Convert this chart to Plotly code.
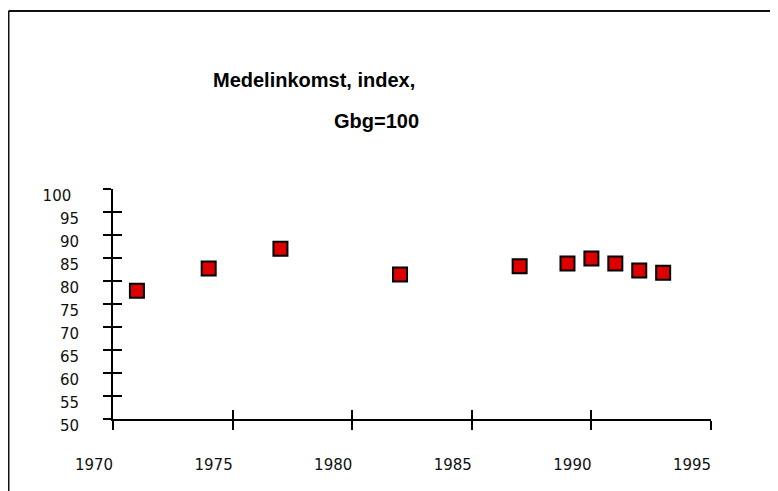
import plotly.graph_objects as go

# ---- data ----
years = [1971, 1974, 1977, 1982, 1987, 1989, 1990, 1991, 1992, 1993]
income_index = [77.9, 82.7, 87.0, 81.4, 83.2, 83.8, 84.9, 83.8, 82.3, 81.8]
x_ticks = [1970, 1975, 1980, 1985, 1990, 1995]
x_ticktext = ["1970", "1975", "1980", "1985", "1990", "1995"]
y_ticks = [50, 55, 60, 65, 70, 75, 80, 85, 90, 95, 100]
y_ticktext = ["50", "55", "60", "65", "70", "75", "80", "85", "90", "95", "100\u00a0\u2009"]
title_line1 = "Medelinkomst, index,"
title_line2 = "Gbg=100"

# page offset of the plot div inside the browser window
OX, OY = 8, 10
W, H = 778, 491
# target plot area in window pixels: x 113..711, y 191..421
L, T = 113 - OX, 191 - OY
PW, PH = 598, 230
R = W - L - PW
B = H - T - PH


def px(xp):
    return (xp - OX - L) / PW


def py(yp):
    return (T + PH - (yp - OY)) / PH


tick_font = dict(family="DejaVu Sans", size=15, color="#111")

fig = go.Figure()
fig.add_trace(go.Scatter(
    x=years, y=income_index, mode="markers",
    marker=dict(symbol="square", size=14, color="#dd0000",
                line=dict(color="black", width=2)),
    showlegend=False, hoverinfo="x+y",
))
# invisible trace to carry the overlay axes (inside half of crossing ticks)
fig.add_trace(go.Scatter(x=[], y=[], xaxis="x2", yaxis="y2", showlegend=False))

axis_common = dict(showgrid=False, zeroline=False, showline=True, linecolor="black",
                   linewidth=2, tickcolor="black", tickwidth=2)

fig.update_layout(
    width=W, height=H,
    margin=dict(l=L, r=R, t=T, b=B),
    paper_bgcolor="white", plot_bgcolor="white",
    xaxis=dict(range=[1970, 1995], tickvals=x_ticks, ticktext=x_ticktext,
               ticks="outside", ticklen=9, tickfont=tick_font,
               ticklabelshift=-19, ticklabelstandoff=22, **axis_common),
    yaxis=dict(range=[50, 100], tickvals=y_ticks, ticktext=y_ticktext,
               ticks="outside", ticklen=8, tickfont=tick_font,
               ticklabelshift=7, ticklabelstandoff=21, **axis_common),
    xaxis2=dict(range=[1970, 1995], tickvals=x_ticks, ticks="inside", ticklen=9,
                overlaying="x", showticklabels=False, showgrid=False, zeroline=False,
                showline=False, tickcolor="black", tickwidth=2, side="bottom"),
    yaxis2=dict(range=[50, 100], tickvals=y_ticks, ticks="inside", ticklen=9,
                overlaying="y", showticklabels=False, showgrid=False, zeroline=False,
                showline=False, tickcolor="black", tickwidth=2, side="left"),
    shapes=[
        dict(type="line", xref="paper", yref="paper", x0=px(8.5), x1=px(800),
             y0=py(13), y1=py(13), line=dict(color="#111", width=2)),
        dict(type="line", xref="paper", yref="paper", x0=px(8.5), x1=px(8.5),
             y0=py(13), y1=py(520), line=dict(color="#111", width=2)),
    ],
    annotations=[
        dict(text="<b>" + title_line1 + "</b>", xref="paper", yref="paper",
             x=px(313.5), y=py(82), xanchor="center", yanchor="middle",
             showarrow=False, font=dict(family="Liberation Sans", size=20, color="black")),
        dict(text="<b>" + title_line2 + "</b>", xref="paper", yref="paper",
             x=px(376.5), y=py(123), xanchor="center", yanchor="middle",
             showarrow=False, font=dict(family="Liberation Sans", size=20, color="black")),
    ],
)

fig.write_html("out.html")
